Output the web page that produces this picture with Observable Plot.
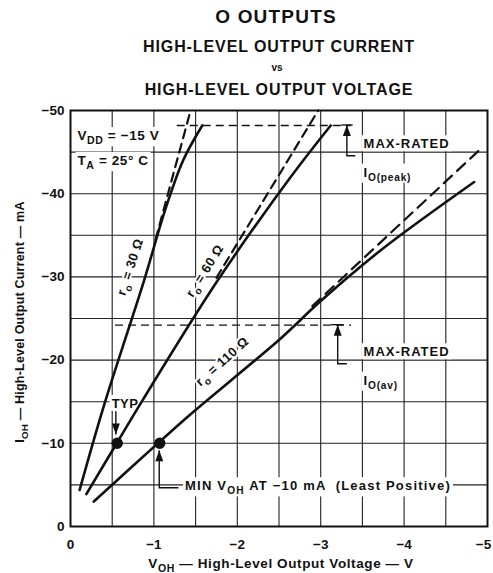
<!DOCTYPE html>
<html>
<head>
<meta charset="utf-8">
<script src="https://cdn.jsdelivr.net/npm/d3@7"></script>
<script src="https://cdn.jsdelivr.net/npm/@observablehq/plot@0.6"></script>
<style>
  html, body { margin: 0; padding: 0; background: white; }
  #wrap { position: relative; width: 493px; height: 573px; overflow: hidden; font-family: 'Liberation Sans', Arial, Helvetica, sans-serif; }
  .t { position: absolute; transform: translateX(-50%); white-space: nowrap; font-weight: bold; color: #111; line-height: 1; }
  #chart { position: absolute; left: 0; top: 100px; }
</style>
</head>
<body>
<div id="wrap">
  <div class="t" style="left:276px; top:7px; font-size:19px; letter-spacing:1.2px;">O OUTPUTS</div>
  <div class="t" style="left:279px; top:39px; font-size:16px; letter-spacing:0.9px;">HIGH-LEVEL OUTPUT CURRENT</div>
  <div class="t" style="left:277px; top:63px; font-size:10px;">vs</div>
  <div class="t" style="left:279px; top:82px; font-size:16px; letter-spacing:0.9px;">HIGH-LEVEL OUTPUT VOLTAGE</div>
  <div id="chart"></div>
</div>
<script>
// ---- data (V in volts, I in mA, both negative as on the datasheet) ----
const xTicks = [0, -1, -2, -3, -4, -5];
const yTicks = [0, -10, -20, -30, -40, -50];
const gridX = [-0.5, -1, -1.5, -2, -2.5, -3, -3.5, -4, -4.5];
const gridY = [-5, -10, -15, -20, -25, -30, -35, -40, -45];

const ro30V = [-0.11, -0.40, -0.88, -1.14, -1.35, -1.58];
const ro30I = [-4.4, -14.5, -29.5, -38.2, -44.0, -48.2];
const ro30DashV = [-1.02, -1.44];
const ro30DashI = [-34.5, -50];

const ro60V = [-0.19, -0.56, -0.86, -1.76, -2.64, -3.12];
const ro60I = [-3.9, -10.1, -15.1, -29.5, -42.0, -48.2];
const ro60DashV = [-1.75, -2.97];
const ro60DashI = [-29.9, -50];

const ro110V = [-0.28, -1.07, -1.44, -2.52, -3.0, -3.72, -4.84];
const ro110I = [-3.0, -10.2, -13.5, -22.6, -27.1, -33.2, -41.4];
const ro110DashV = [-2.9, -4.94];
const ro110DashI = [-26.5, -45.6];

const markV = [-0.56, -1.07];       // TYP, MIN points
const markI = [-10, -10];

const peakI = -48.2, peakV = [-1.28, -3.37];   // max-rated IO(peak)
const avI = -24.2, avV = [-0.54, -3.37];       // max-rated IO(av)

const FONT = "'Liberation Sans', Arial, Helvetica, sans-serif";
const tbl = (V, I) => V.map((v, i) => ({v, i: I[i]}));
const fmt = d => d === 0 ? "0" : "\u2212" + Math.abs(d);

const plot = Plot.plot({
  width: 493, height: 473,
  marginTop: 10, marginBottom: 47, marginLeft: 70, marginRight: 6,
  style: {fontFamily: FONT, fontSize: "13px", fontWeight: "bold", color: "#111", background: "white"},
  x: {domain: [0, -5], label: null, axis: null},
  y: {domain: [0, -50], label: null},
  marks: [
    Plot.ruleX(gridX, {stroke: "#222", strokeWidth: 1.1}),
    Plot.ruleY(gridY, {stroke: "#222", strokeWidth: 1.1}),
    Plot.text(xTicks.slice(0, 5), {x: d => d, frameAnchor: "bottom", dy: 22, text: fmt, fontSize: 13.5, fontWeight: "bold", fill: "#111"}),
    Plot.text(xTicks.slice(5), {x: d => d, frameAnchor: "bottom", dy: 22, dx: -4, text: fmt, fontSize: 13.5, fontWeight: "bold", fill: "#111"}),
    Plot.axisY(yTicks, {tickSize: 0, tickPadding: 6, fontSize: 13.5, fontWeight: "bold", tickFormat: fmt}),
    Plot.line(tbl(ro30V, ro30I), {x: "v", y: "i", stroke: "#111", strokeWidth: 2.6, curve: "catmull-rom"}),
    Plot.line(tbl(ro60V, ro60I), {x: "v", y: "i", stroke: "#111", strokeWidth: 2.6, curve: "catmull-rom"}),
    Plot.line(tbl(ro110V, ro110I), {x: "v", y: "i", stroke: "#111", strokeWidth: 2.6, curve: "catmull-rom"}),
    Plot.line(tbl(ro30DashV, ro30DashI), {x: "v", y: "i", stroke: "#111", strokeWidth: 2.2, strokeDasharray: "9,6"}),
    Plot.line(tbl(ro60DashV, ro60DashI), {x: "v", y: "i", stroke: "#111", strokeWidth: 2.2, strokeDasharray: "9,6"}),
    Plot.line(tbl(ro110DashV, ro110DashI), {x: "v", y: "i", stroke: "#111", strokeWidth: 2.2, strokeDasharray: "11,7"}),
    Plot.ruleY([peakI], {x1: peakV[0], x2: peakV[1], stroke: "#111", strokeWidth: 1.3, strokeDasharray: "8,5"}),
    Plot.ruleY([avI], {x1: avV[0], x2: avV[1], stroke: "#111", strokeWidth: 1.3, strokeDasharray: "8,5"}),
    Plot.dot(tbl(markV, markI), {x: "v", y: "i", r: 5, fill: "#111", stroke: "#111"}),
    Plot.frame({stroke: "#111", strokeWidth: 2})
  ]
});
document.getElementById("chart").appendChild(plot);

const sx = plot.scale("x"), sy = plot.scale("y");
const X = v => sx.apply(v), Y = i => sy.apply(i);
const svg = d3.select(plot);
const ann = svg.append("g").attr("font-family", FONT).attr("fill", "#111");

function rich(x, y, parts, {size = 12, anchor = "start", rotate = 0, weight = "bold", halo = 0, ls = 0} = {}) {
  const t = ann.append("text")
    .attr("transform", `translate(${x},${y}) rotate(${rotate})`)
    .attr("text-anchor", anchor).attr("font-size", size).attr("font-weight", weight)
    .attr("letter-spacing", ls);
  if (halo) t.attr("stroke", "white").attr("stroke-width", halo).attr("paint-order", "stroke").attr("stroke-linejoin", "round");
  let shift = 0;
  for (const [s, sub] of parts) {
    const want = sub ? size * 0.32 : 0;
    const ts = t.append("tspan").text(s).attr("dy", want - shift);
    if (sub) ts.attr("font-size", size * 0.78);
    shift = want;
  }
  return t;
}
const whiteBehind = [];
function boxed(t, pad = 2) { whiteBehind.push([t, pad]); return t; }

// conditions
boxed(rich(X(-0.09), Y(-46.4), [["V"], ["DD", 1], [" = \u221215 V"]], {size: 13.5, ls: 0.6}));
boxed(rich(X(-0.09), Y(-43.4), [["T"], ["A", 1], [" = 25\u00B0 C"]], {size: 13.5, ls: 0.6}));

// resistance labels along curves
rich(X(-0.77), Y(-31.0), [["r"], ["o", 1], [" = 30 \u03A9"]], {size: 13, anchor: "middle", rotate: -72, halo: 4, ls: 0.5});
rich(X(-1.66), Y(-30.4), [["r"], ["o", 1], [" = 60 \u03A9"]], {size: 13, anchor: "middle", rotate: -58, halo: 4, ls: 0.5});
rich(X(-1.86), Y(-19.4), [["r"], ["o", 1], [" = 110 \u03A9"]], {size: 13, anchor: "middle", rotate: -42, halo: 4, ls: 0.5});

// max-rated annotations
boxed(rich(X(-3.52), Y(-45.4), [["MAX-RATED"]], {size: 13, ls: 1}));
boxed(rich(X(-3.52), Y(-42.0), [["I"], ["O(peak)", 1]], {size: 13, ls: 0.8}));
boxed(rich(X(-3.52), Y(-20.4), [["MAX-RATED"]], {size: 13, ls: 1}));
boxed(rich(X(-3.52), Y(-17.0), [["I"], ["O(av)", 1]], {size: 13, ls: 0.8}));
boxed(rich(X(-0.66), Y(-14.2), [["TYP"]], {size: 13, anchor: "middle", ls: 0.5}));
boxed(rich(X(-1.38), Y(-4.3), [["MIN V"], ["OH", 1], [" AT \u221210 mA  (Least Positive)"]], {size: 13, ls: 1.2}));

// axis titles
rich(281, 468, [["V"], ["OH", 1], [" \u2014 High-Level Output Voltage \u2014 V"]], {size: 13.5, anchor: "middle", ls: 0.6});
rich(24, 222, [["I"], ["OH", 1], [" \u2014 High-Level Output Current \u2014 mA"]], {size: 12.5, anchor: "middle", rotate: -90, ls: 0.2});

// white backing boxes behind annotation texts (under the curves, over the grid)
for (const [t, pad] of whiteBehind) {
  const b = t.node().getBBox();
  const tr = t.attr("transform");
  svg.insert("rect", "g[aria-label=line]")
    .attr("transform", tr)
    .attr("x", b.x - pad).attr("y", b.y - 1).attr("width", b.width + 2 * pad).attr("height", b.height + 1)
    .attr("fill", "white");
}

// arrows
function arrow(pts, tipUp) {
  const p = pts.map(([v, i]) => [X(v), Y(i)]);
  ann.append("path").attr("d", d3.line()(p)).attr("fill", "none").attr("stroke", "#111").attr("stroke-width", 1.4);
  const [tx, ty] = p[0];
  const dir = tipUp ? 1 : -1;
  ann.append("path").attr("d", `M${tx},${ty} L${tx - 4},${ty + dir * 11} L${tx + 4},${ty + dir * 11} Z`).attr("fill", "#111");
}
arrow([[-3.32, -48.2], [-3.32, -44.5], [-3.42, -44.5]], true);
ann.append("line").attr("x1", X(-3.25)).attr("x2", X(-3.39)).attr("y1", Y(-48.2)).attr("y2", Y(-48.2)).attr("stroke", "#111").attr("stroke-width", 1.3);
arrow([[-3.21, -24.2], [-3.21, -19.5], [-3.32, -19.5]], true);
ann.append("line").attr("x1", X(-3.13)).attr("x2", X(-3.28)).attr("y1", Y(-24.2)).attr("y2", Y(-24.2)).attr("stroke", "#111").attr("stroke-width", 1.3);
arrow([[-0.55, -11.0], [-0.55, -13.8]], false);
arrow([[-1.07, -9.1], [-1.07, -4.6], [-1.30, -4.6]], true);
</script>
</body>
</html>
